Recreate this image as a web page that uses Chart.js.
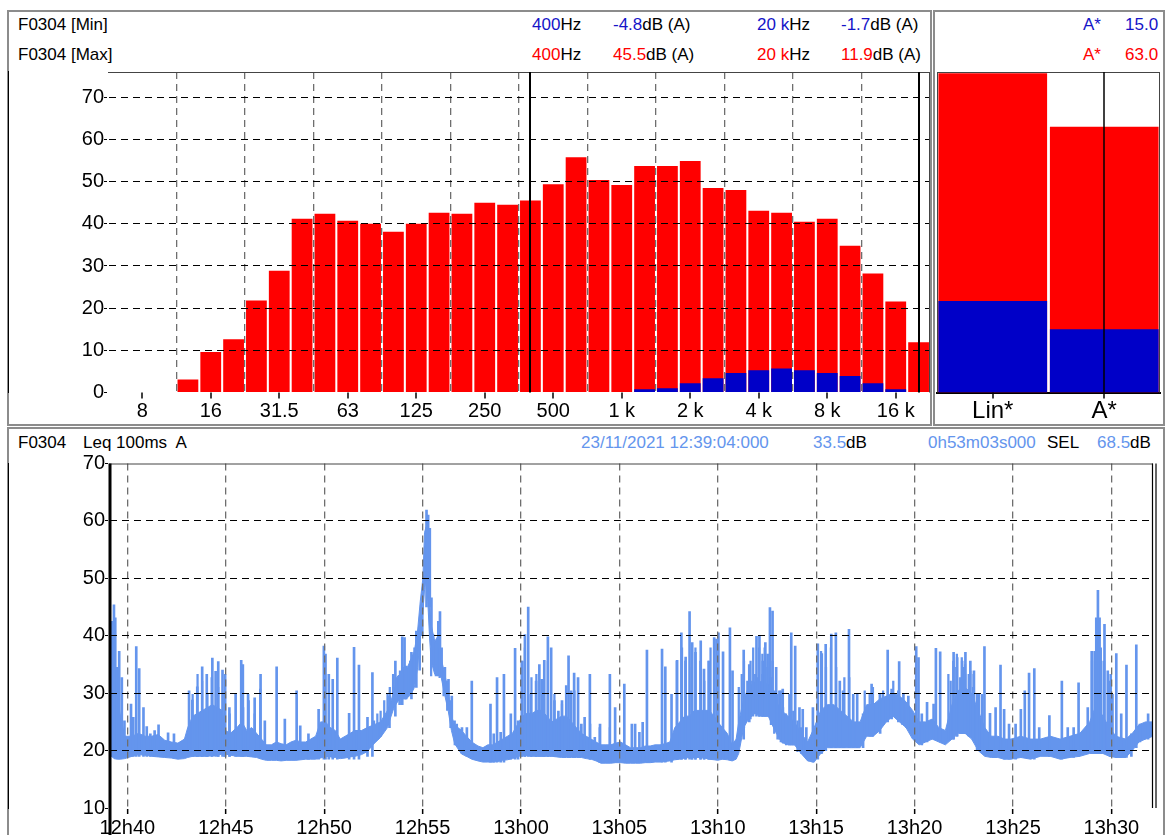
<!DOCTYPE html>
<html><head><meta charset="utf-8">
<script src="https://cdn.jsdelivr.net/npm/chart.js@4.4.1/dist/chart.umd.min.js"></script>
<style>
html,body{margin:0;padding:0;background:#fff;width:1165px;height:835px;overflow:hidden;font-family:"Liberation Sans",Arial,sans-serif;}
.panel{position:absolute;box-sizing:border-box;border:2px solid #8c8c8c;}
.t{position:absolute;font-size:17px;line-height:20px;white-space:pre;color:#000;}
.b{color:#1414c8}.r{color:#ff0000}.c{color:#6495ed}
canvas{position:absolute;clip-path:inset(4px 0 0 0);}
</style></head><body>
<div class="panel" style="left:7px;top:10px;width:925px;height:416px"></div>
<div class="panel" style="left:933px;top:10px;width:232px;height:416px"></div>
<div class="panel" style="left:7px;top:427px;width:1158px;height:420px"></div>

<div class="t" style="left:18px;top:15px">F0304 [Min]</div>
<div class="t" style="left:18px;top:45px">F0304 [Max]</div>
<div class="t" style="left:532px;top:15px"><span class="b">400</span>Hz</div>
<div class="t" style="left:613px;top:15px"><span class="b">-4.8</span>dB (A)</div>
<div class="t" style="left:757px;top:15px"><span class="b">20 k</span>Hz</div>
<div class="t" style="left:841px;top:15px"><span class="b">-1.7</span>dB (A)</div>
<div class="t" style="left:532px;top:45px"><span class="r">400</span>Hz</div>
<div class="t" style="left:613px;top:45px"><span class="r">45.5</span>dB (A)</div>
<div class="t" style="left:757px;top:45px"><span class="r">20 k</span>Hz</div>
<div class="t" style="left:841px;top:45px"><span class="r">11.9</span>dB (A)</div>
<div class="t b" style="left:1083px;top:15px">A*</div>
<div class="t b" style="left:1125px;top:15px">15.0</div>
<div class="t r" style="left:1083px;top:45px">A*</div>
<div class="t r" style="left:1125px;top:45px">63.0</div>

<div class="t" style="left:18px;top:433px">F0304</div>
<div class="t" style="left:83px;top:433px">Leq 100ms  A</div>
<div class="t c" style="left:581px;top:433px">23/11/2021 12:39:04:000</div>
<div class="t" style="left:813px;top:433px"><span class="c">33.5</span>dB</div>
<div class="t c" style="left:928px;top:433px">0h53m03s000</div>
<div class="t" style="left:1047px;top:433px">SEL</div>
<div class="t" style="left:1097px;top:433px"><span class="c">68.5</span>dB</div>

<canvas id="spec" width="924" height="364" style="left:8px;top:60px"></canvas>
<canvas id="broad" width="229" height="362" style="left:934px;top:62px"></canvas>
<canvas id="time" width="1155" height="384" style="left:8px;top:451px"></canvas>

<script>
// ---------- spectrum (1/3 octave) ----------
const bandLabels = ['6.3','8','10','12.5','16','20','25','31.5','40','50','63','80','100','125','160','200','250','315','400','500','630','800','1 k','1.25 k','1.6 k','2 k','2.5 k','3.15 k','4 k','5 k','6.3 k','8 k','10 k','12.5 k','16 k','20 k'];
const octaveLabels = ['8','16','31.5','63','125','250','500','1 k','2 k','4 k','8 k','16 k'];
const cursorBands = ['400','20 k'];
const spectrumMax = [-2.5,-1.6,-0.4,3.1,9.6,12.6,21.8,28.9,41.2,42.4,40.7,40.0,38.1,40.0,42.6,42.4,45.0,44.5,45.5,49.4,55.8,50.4,49.2,53.7,53.7,54.9,48.5,48.0,43.1,42.6,40.5,41.2,34.8,28.2,21.6,11.9];
const spectrumMin = [-20.5,-19.0,-17.2,-15.5,-13.6,-12.4,-11.0,-9.8,-8.9,-8.1,-7.6,-7.0,-6.5,-6.0,-5.6,-5.3,-5.0,-4.9,-4.8,-3.6,-2.4,-1.1,-0.3,0.8,1.0,2.2,3.4,4.6,5.3,5.7,5.3,4.6,3.9,2.2,0.8,-1.7];
const specYTicks = [0,10,20,30,40,50,60,70];

// ---------- broadband ----------
const broadLabels = ['Lin*','A*'];
const broadMax = [75.7, 63.0];
const broadMin = [21.7, 15.0];
const broadCursor = 'A*';

// ---------- time history ----------
const startClock = [12,39,4];
const durationSec = 3183;
const timeTickLabels = ['12h40','12h45','12h50','12h55','13h00','13h05','13h10','13h15','13h20','13h25','13h30'];
const timeYTicks = [10,20,30,40,50,60,70];
const envSec = [0,8,15,25,35,48,70,90,110,130,
150,170,190,210,230,240,255,270,285,300,
315,330,345,355,370,390,405,420,435,450,
465,480,495,510,525,540,555,570,585,600,
615,630,645,660,675,690,705,720,735,750,
770,787,808,828,849,859,869,880,890,900,
910,921,931,941,949,957,962,967,972,977,
982,993,1003,1013,1023,1034,1044,1054,1064,1075,
1090,1106,1125,1140,1155,1170,1185,1200,1215,1230,
1245,1260,1275,1290,1305,1320,1335,1350,1365,1380,
1395,1410,1425,1440,1455,1470,1485,1500,1515,1530,
1545,1560,1575,1590,1605,1620,1635,1650,1665,1680,
1695,1710,1725,1740,1755,1770,1785,1800,1815,1830,
1845,1856,1870,1885,1900,1912,1920,1935,1950,1970,
1990,2010,2030,2050,2070,2090,2110,2130,2150,2170,
2190,2210,2230,2250,2270,2290,2310,2330,2350,2370,
2390,2410,2430,2450,2470,2490,2510,2530,2550,2570,
2590,2610,2630,2650,2670,2690,2710,2730,2750,2780,
2810,2840,2870,2900,2930,2960,2990,3010,3030,3050,
3070,3100,3120,3140,3160,3183];
const envLow = [19.0,19.0,18.6,18.5,18.5,18.6,19.0,19.3,19.2,19.0,
18.9,18.8,18.7,18.5,18.6,18.8,19.0,19.0,19.0,19.0,
19.1,19.2,19.4,19.4,19.2,19.0,19.0,19.0,18.9,18.8,
18.5,18.3,18.3,18.3,18.2,18.3,18.3,18.3,18.4,18.5,
18.5,18.5,18.7,19.0,18.9,18.8,18.6,18.7,18.9,19.0,
19.3,19.8,21.2,22.3,24.0,25.8,27.5,28.5,29.2,29.2,
29.2,29.8,31.0,34.5,40.0,44.0,48.0,50.0,46.0,40.0,
35.6,33.3,33.3,32.7,29.8,27.0,23.5,21.2,20.3,19.4,
19.0,18.5,18.2,18.0,18.0,18.0,18.1,18.3,18.4,18.6,
18.9,19.2,19.1,19.0,19.0,19.0,19.0,19.0,18.9,18.8,
18.8,18.8,18.8,18.8,18.6,18.5,18.2,17.8,17.8,17.8,
17.9,17.9,17.8,17.8,17.8,17.8,17.9,17.9,18.0,18.0,
18.1,18.2,18.4,18.5,18.7,18.8,18.8,18.8,18.7,18.5,
18.4,18.3,18.5,18.4,18.2,18.5,19.5,24.0,25.5,26.5,
26.0,26.0,23.5,21.5,21.0,21.0,19.5,18.2,18.0,19.5,
20.5,20.5,20.5,20.5,20.5,20.5,22.5,22.5,23.5,25.0,
26.0,25.0,24.0,22.0,21.0,21.5,22.0,21.5,21.0,22.0,
23.0,23.0,22.0,20.0,19.0,18.8,18.8,18.5,18.5,18.8,
18.5,19.0,19.0,18.5,18.8,19.0,19.5,19.5,19.5,19.0,
18.8,18.8,20.0,21.5,22.0,22.5];
const envHigh = [36,40,33,30,26,22.5,22.5,23,22.5,22.5,
22.8,21.8,21.5,21.3,22,24,26,26.5,27,27.5,
28,27.5,27,23.5,23,24,25,23.5,24,23,
22,21,21,21.5,21.2,21,21.5,21.8,21.5,21.5,
22,22.5,25,25,24,23.5,22,22.5,23,23.5,
23.5,24,24.5,25,27,28.5,30.5,33,33.3,34,
34.5,36,37.3,41,46,50,58,59,55,46,
42,39,40,36,33.5,30.5,26,24.5,24,23.5,
22.5,21.5,20.8,20.5,21,21,21.5,22,22.5,23,
24.5,26,26.5,26.5,27,27,26,25,25.5,26,
26,25,24,23,22.5,22,21.5,21,21,21,
21.3,21.5,21,20.5,20.5,20.5,20.8,20.8,21,21,
21.2,21.5,24,25,26,26,27,27,27,27,
26,25,24,23,21,22,25,29,31,32,
32,31.5,29,27,26,25,23,21.5,24,27,
28,28,27,26,25,25,28,28,29,29.5,
30,29.5,28.5,27,25,25,25.5,24,23.5,28,
30.5,31,30,27,24,22.5,22.5,22,22,22.5,
22,22,22.5,22,22.5,23,25,28,26,24,
22.5,22,23,24.5,25,25];
const spikeSec = [2,9,13,19,25,33,41,61,68,77,
86,99,109,120,133,145,174,192,238,248,
263,278,292,309,319,327,340,348,361,380,
397,402,418,438,456,469,505,530,566,577,
602,633,649,654,664,676,690,726,741,756,
782,797,849,867,880,888,895,900,916,931,
941,949,962,967,972,977,982,991,998,1003,
1008,1018,1029,1039,1054,1070,1085,1100,1157,1167,
1177,1188,1198,1219,1232,1241,1254,1262,1272,1280,
1296,1306,1313,1321,1332,1342,1352,1364,1375,1388,
1395,1403,1412,1424,1434,1444,1460,1475,1491,1521,
1537,1565,1588,1598,1611,1621,1634,1680,1690,1709,
1726,1739,1752,1764,1772,1782,1798,1808,1823,1839,
1846,1852,1866,1887,1895,1929,1946,1968,1977,1987,
1995,2002,2009,2017,2028,2038,2048,2074,2086,2099,
2109,2120,2140,2155,2167,2179,2196,2210,2222,2232,
2250,2263,2275,2293,2319,2345,2368,2380,2403,2416,
2431,2455,2462,2472,2488,2508,2515,2528,2569,2580,
2595,2605,2620,2631,2646,2656,2663,2680,2697,2712,
2723,2738,2758,2774,2786,2799,2815,2830,2861,2899,
2917,2935,2950,2978,2990,2999,3004,3009,3014,3019,
3029,3039,3048,3065,3080,3096,3111,3126,3137,3152,
3162];
const spikeFrom = [19,19,19,19,19,19,19,19,19,19,
19,19,19,19,19,19,19,19,19,19,
19,19,19,19,19,19,19,19,19,19,
19,19,19,19,19,19,18.5,18.5,18.5,18.5,
18.5,18.5,18.5,18.5,18.5,18.5,18.5,18.5,18.5,18.5,
19,19,24,26,28,28,29,29,29,31,
34,40,45,48,45,40,35,33,33,33,
33,30,28,25,21,19.5,19,19,18,18,
18,18,18,18.5,18.5,18.5,19,19,19,19,
19,19,19,19,19,19,19,19,19,19,
19,19,19,19,19,19,18.5,18.5,18,18,
18,18,18,18,18,18,18,18,18,18,
18.5,18.5,18.5,18.5,18.5,18.5,18.5,18.5,18.5,18.5,
18.5,18.5,18.5,18.5,18.5,22,25,26,26,26,
26,26,26,26,24,22,21.5,21,21,20,
19.5,19,18,18.5,19.5,20,20.5,20.5,20.5,20.5,
20.5,20.5,20.5,20.5,22.5,23,25,25.5,25.5,25,
24,22,21.5,21,21.5,22,22,21.5,22,22.5,
23,23,22.5,22,20.5,20,19.5,19,18.8,18.8,
18.5,18.5,18.5,18.8,18.8,18.8,18.5,19,19,18.5,
18.8,18.8,19,19.5,19.5,19.5,19.5,19.5,19.5,19.5,
19.5,19.5,19,18.8,18.8,18.8,19,20.5,21.5,22,
22];
const spikeTop = [42.5,45.4,43.1,34.5,37.3,32.7,25.2,28.1,25.8,38.1,
34.3,27.5,24.2,22.9,23.5,24.5,23.1,22.9,30.4,28.8,
31.1,34.6,33.3,36.1,33.8,35.5,34.0,33.3,27.5,29.8,
35.7,35.0,29.8,29.2,33.3,25.2,34.6,25.5,30.4,24.3,
22.9,27.2,38.2,36.8,33.3,32.4,36.1,26.5,38.0,34.9,
25.8,33.6,29.5,35.6,32.7,39.8,39.7,34.7,37.1,40.8,
41.1,47.2,61.9,61.0,58.7,46.6,40.2,35.0,42.5,44.2,
37.9,34.5,32.4,29.5,24.6,24.0,24.0,32.1,28.1,22.9,
32.7,23.2,33.3,26.4,37.8,25.2,35.6,40.2,45.0,29.8,
32.1,35.0,32.4,35.7,39.8,37.9,28.7,26.9,28.7,31.3,
36.5,30.4,33.5,32.7,24.6,25.8,33.3,22.3,24.6,33.3,
27.5,31.6,24.6,24.6,23.2,24.9,37.5,37.7,34.6,29.8,
35.7,40.5,36.3,44.2,38.8,37.1,39.1,34.2,35.6,39.7,
39.4,40.5,37.2,41.4,33.9,37.5,35.0,39.9,39.9,35.6,
38.8,36.8,44.9,44.3,34.5,30.4,30.7,40.5,38.2,27.5,
27.2,24.0,27.5,38.6,36.9,38.5,40.3,40.5,32.1,30.4,
41.1,29.8,29.8,26.4,31.6,29.8,37.5,30.7,35.5,29.8,
29.5,38.1,36.2,26.4,28.4,28.1,37.8,37.2,37.1,36.2,
35.6,37.1,35.6,33.9,29.8,29.8,38.1,26.5,27.5,34.9,
27.2,24.6,24.6,27.2,30.4,33.5,34.3,24.0,26.1,32.1,
24.0,24.0,31.8,27.5,37.3,37.3,43.1,47.9,43.1,35.6,
42.0,33.9,33.3,36.9,26.4,34.9,22.9,38.4,24.6,24.6,
26.4];
// secondary (denser, smaller) spikes in the busy stretches
const minorSec = [255,270,284,300,313,333,352,368,409,426,
444,461,1258,1268,1288,1303,1325,1338,1358,1381,
1408,1419,1439,1467,1496,1527,1731,1747,1757,1777,
1788,1803,1815,1828,1834,1856,1936,1956,1964,1982,
1992,1999,2023,2161,2171,2186,2201,2217,2242,2257,
2574,2585,2600,2610,2626,2636,2997,3011,3024,3034,
3052,3060];
const minorFrom = [19,19,19,19,19,19,19,19,19,19,
19,19,19,19,19,19,19,19,19,19,
19,19,19,18.5,18,18,18.5,18.5,18.5,18.5,
18.5,18.5,18.5,18.5,18.5,18.5,24,25.5,26,26,
26,26,24.5,19,19.5,20,20.5,20.5,20.5,20.5,
22,22.5,23,23,22.5,22,19.5,19.5,19.5,19.5,
19,19];
const minorTop = [29.8,33.3,32.1,29.8,32.7,31.0,29.8,26.4,27.5,28.7,
26.4,30.7,35.6,37.9,32.7,33.3,32.1,35.6,29.8,28.1,
29.8,30.4,24.0,24.6,24.0,24.0,35.6,37.9,35.6,34.5,
37.9,35.6,32.1,35.6,37.9,32.7,35.6,35.6,37.9,37.9,
36.8,37.9,35.6,35.6,37.3,34.5,37.9,34.5,32.7,32.7,
35.6,36.8,36.2,35.0,33.9,33.3,35.6,40.2,37.9,35.6,
32.1,29.8];
// short "hair" tips along the ragged top of the raised stretches
const hairSec = [813,823,833,844,854,861,871,882,892,905,
910,923,936,987,1013,1025,1036,1046,1059,1925,
1934,1941,1951,1958,1966,1975,1982,1989,1997,2005,
2012,2023,2033,2043,2053,2060,2069,2079,2091,2104,
2115,2309,2324,2334,2355,2365,2391,2396,2411,2424,
2436,2564,2571,2588,2600,2610,2615,2626,2639,2651];
const hairFrom = [21.5,22,22.5,23.5,24.5,26,27.5,28.5,29,29,
29,30,32,33,32.7,29.5,27,24,21,21,
24,24.5,25.5,26,26.5,26.5,26.5,26,26,26,
26,24.5,23,22,21.5,21.3,21,21,21,19.8,
19.5,22.5,22.5,22.5,23.5,24.5,26,26,25,24.5,
24,22,22,23,23,23,23,22.5,22,20];
const hairTop = [25.2,26.4,26.9,28.7,29.8,31.0,33.3,32.7,33.9,34.5,
33.3,35.6,37.9,37.9,37.9,33.3,32.1,28.7,25.2,31.0,
33.3,29.8,32.1,34.5,32.1,33.3,32.7,29.8,33.3,35.6,
34.5,32.7,30.4,29.8,30.4,27.5,26.4,29.8,26.9,25.2,
24.0,30.4,29.8,31.0,29.8,30.4,29.8,32.1,30.4,28.7,
27.5,33.3,32.1,34.5,32.7,34.5,33.3,33.3,31.0,29.8];

// ---------- styling ----------
const RED = '#ff0000', BLUE = '#0000c8', TRACE = '#6495ed';
const GRID_H = '#000000', GRID_V = '#6e6e6e';
Chart.defaults.font.family = "'Liberation Sans', Arial, sans-serif";
Chart.defaults.font.size = 20;
Chart.defaults.color = '#000';
Chart.defaults.animation = false;
Chart.defaults.plugins.legend.display = false;
Chart.defaults.plugins.tooltip.enabled = false;

function seg(ctx, x1, y1, x2, y2) { ctx.beginPath(); ctx.moveTo(x1, y1); ctx.lineTo(x2, y2); ctx.stroke(); }

const specDecor = { id: 'specDecor', afterDraw(chart) {
  const { ctx, chartArea: a, scales: { x, y } } = chart;
  const top = y.getPixelForValue(y.max);
  ctx.save(); ctx.setLineDash([]);
  ctx.strokeStyle = '#444'; ctx.lineWidth = 1;
  seg(ctx, a.left, top + 0.5, a.right, top + 0.5);
  seg(ctx, a.right - 0.5, top, a.right - 0.5, a.bottom);
  ctx.strokeStyle = '#000'; ctx.lineWidth = 1.5;
  octaveLabels.forEach(l => { const px = Math.round(x.getPixelForValue(bandLabels.indexOf(l))); seg(ctx, px, a.bottom, px, a.bottom + 6); });
  ctx.lineWidth = 2;
  cursorBands.forEach(l => { const px = Math.round(x.getPixelForValue(bandLabels.indexOf(l))); seg(ctx, px, top, px, a.bottom); });
  ctx.restore();
}};

new Chart(document.getElementById('spec'), {
  type: 'bar',
  data: { labels: bandLabels, datasets: [
    { data: spectrumMax, backgroundColor: RED, order: 2, grouped: false, barPercentage: 0.91, categoryPercentage: 1 },
    { data: spectrumMin, backgroundColor: BLUE, order: 1, grouped: false, barPercentage: 0.91, categoryPercentage: 1 }
  ]},
  options: {
    responsive: false, devicePixelRatio: 1,
    layout: { padding: { top: 12, right: 2, left: 0, bottom: 0 } },
    scales: {
      x: {
        offset: true,
        grid: { offset: true, drawTicks: false, z: 1, lineWidth: 1.3,
          color: c => (c.index > 0 && c.index < bandLabels.length && c.index % 3 === 0) ? GRID_V : 'rgba(0,0,0,0)' },
        border: { color: '#000', width: 2, dash: [7, 5] },
        ticks: { autoSkip: false, maxRotation: 0, minRotation: 0, padding: 7,
          callback: (v, i) => octaveLabels.includes(bandLabels[i]) ? bandLabels[i] : '' },
        afterFit: s => { s.height = 31.5; }
      },
      y: {
        min: 0, max: 76,
        afterBuildTicks: s => { s.ticks = specYTicks.map(v => ({ value: v })); },
        grid: { z: 1, color: c => (c.tick && c.tick.value === 0) ? 'rgba(0,0,0,0)' : GRID_H,
          drawTicks: true, tickLength: 4, tickColor: '#000' },
        border: { color: '#000', width: 2, dash: [7, 5] },
        ticks: { padding: 0 },
        afterFit: s => { s.width = 100; }
      }
    }
  },
  plugins: [specDecor]
});

const broadDecor = { id: 'broadDecor', afterDraw(chart) {
  const { ctx, chartArea: a, scales: { x } } = chart;
  ctx.save(); ctx.setLineDash([]);
  ctx.strokeStyle = '#444'; ctx.lineWidth = 1;
  seg(ctx, a.left, a.top + 0.5, a.right, a.top + 0.5);
  seg(ctx, a.right - 0.5, a.top, a.right - 0.5, a.bottom);
  seg(ctx, a.left + 0.5, a.top, a.left + 0.5, a.bottom);
  ctx.strokeStyle = '#000'; ctx.lineWidth = 1.5;
  broadLabels.forEach((l, i) => { const px = Math.round(x.getPixelForValue(i)); seg(ctx, px, a.bottom, px, a.bottom + 6); });
  const cx = Math.round(x.getPixelForValue(broadLabels.indexOf(broadCursor)));
  seg(ctx, cx, a.top, cx, a.bottom);
  ctx.restore();
}};

new Chart(document.getElementById('broad'), {
  type: 'bar',
  data: { labels: broadLabels, datasets: [
    { data: broadMax, backgroundColor: RED, order: 2, grouped: false, barPercentage: 0.975, categoryPercentage: 1 },
    { data: broadMin, backgroundColor: BLUE, order: 1, grouped: false, barPercentage: 0.975, categoryPercentage: 1 }
  ]},
  options: {
    responsive: false, devicePixelRatio: 1,
    layout: { padding: { top: 10, right: 3, left: 3, bottom: 0 } },
    scales: {
      x: { grid: { display: false, drawTicks: false }, border: { color: '#000', width: 2 },
        ticks: { padding: 4, font: { size: 24 } }, afterFit: s => { s.height = 31.5; } },
      y: { display: false, min: 0, max: 76 }
    }
  },
  plugins: [broadDecor]
});

// time axis ticks derived from the clock labels
const startSec = startClock[0] * 3600 + startClock[1] * 60 + startClock[2];
const timeTickSec = timeTickLabels.map(l => { const [h, m] = l.split('h').map(Number); return h * 3600 + m * 60 - startSec; });

const timeDecor = { id: 'timeDecor', afterDraw(chart) {
  const { ctx, chartArea: a, scales: { y } } = chart;
  const top = y.getPixelForValue(y.max);
  ctx.save(); ctx.setLineDash([]);
  ctx.strokeStyle = '#444'; ctx.lineWidth = 1;
  seg(ctx, a.left, top + 0.5, a.right, top + 0.5);
  ctx.strokeStyle = '#000'; ctx.lineWidth = 1.2;
  seg(ctx, a.right - 0.5, top, a.right - 0.5, a.bottom);
  seg(ctx, a.right + 3, top, a.right + 3, a.bottom);
  ctx.lineWidth = 3;
  seg(ctx, a.left + 1, top, a.left + 1, chart.height);
  ctx.restore();
}};

const spikeSet = (sec, from, top, thick, order) => ({
  type: 'bar', backgroundColor: TRACE, barThickness: thick, order,
  data: sec.map((t, i) => ({ x: t, y: [from[i], top[i]] }))
});
new Chart(document.getElementById('time'), {
  type: 'line',
  data: { datasets: [
    { type: 'line', data: envSec.map((t, i) => ({ x: t, y: envLow[i] })), borderColor: TRACE, borderWidth: 1, pointRadius: 0, fill: false, order: 5 },
    { type: 'line', data: envSec.map((t, i) => ({ x: t, y: envHigh[i] })), borderColor: TRACE, borderWidth: 1, pointRadius: 0, fill: '-1', backgroundColor: TRACE, order: 4 },
    spikeSet(spikeSec, spikeFrom, spikeTop, 2, 3),
    spikeSet(minorSec, minorFrom, minorTop, 1.6, 2),
    spikeSet(hairSec, hairFrom, hairTop, 1.6, 1)
  ]},
  options: {
    responsive: false, devicePixelRatio: 1,
    layout: { padding: { top: 12.5, right: 10, left: 0, bottom: 0 } },
    scales: {
      x: {
        type: 'linear', min: 0, max: durationSec, offset: false,
        afterBuildTicks: s => { s.ticks = timeTickSec.map(v => ({ value: v })); },
        grid: { offset: false, z: 1, color: GRID_V, lineWidth: 1.3, tickColor: '#000', tickLength: 6, tickWidth: 1.5 },
        border: { color: '#000', width: 2, dash: [7, 5] },
        ticks: { autoSkip: false, maxRotation: 0, minRotation: 0, padding: 2, callback: (v, i) => timeTickLabels[i] },
        afterFit: s => { s.height = 27; }
      },
      y: {
        min: 10, max: 70,
        afterBuildTicks: s => { s.ticks = timeYTicks.map(v => ({ value: v })); },
        grid: { z: 1, color: c => (c.tick && (c.tick.value === 10 || c.tick.value === 70)) ? 'rgba(0,0,0,0)' : GRID_H,
          drawTicks: true, tickLength: 4, tickColor: '#000' },
        border: { color: '#000', width: 2, dash: [7, 5] },
        ticks: { padding: 0 },
        afterFit: s => { s.width = 101; }
      }
    }
  },
  plugins: [timeDecor]
});
</script>
</body></html>
